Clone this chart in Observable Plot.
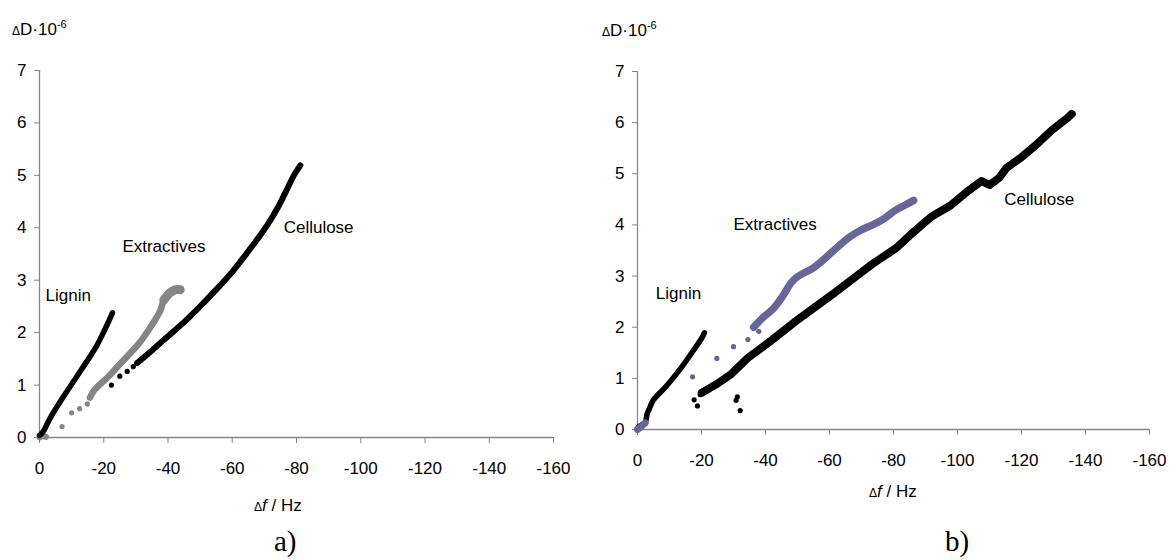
<!DOCTYPE html>
<html>
<head>
<meta charset="utf-8">
<script src="https://cdn.jsdelivr.net/npm/d3@7"></script>
<script src="https://cdn.jsdelivr.net/npm/@observablehq/plot@0.6"></script>
<style>
  body { margin: 0; background: #fff; }
  #fig { position: relative; width: 1173px; height: 560px; overflow: hidden; background: #fff; }
  #fig > svg { position: absolute; top: 0; }
  #overlay { left: 0; pointer-events: none; }
</style>
</head>
<body>
<div id="fig"></div>
<script>
// Axis ticks shared by both panels
const xTicks = [0, -20, -40, -60, -80, -100, -120, -140, -160];
const yTicks = [0, 1, 2, 3, 4, 5, 6, 7];

// Panel a) — [Δf (Hz), ΔD·10^-6]
const ligninA = [[0, 0.04], [-1, 0.1], [-3.4, 0.38], [-8.1, 0.84], [-13.1, 1.3], [-17.7, 1.74], [-20.2, 2.04], [-22.1, 2.29], [-22.7, 2.38]];
const extrA0 = [[0, 0], [-1, 0.03], [-2, 0.01]];
const extrAPts = [[-7.0, 0.21], [-10.0, 0.47], [-12.5, 0.55], [-14.9, 0.64]];
const extrA = [[-15.7, 0.76], [-17.0, 0.9], [-18.4, 0.99], [-21.4, 1.16], [-26.1, 1.47], [-30.9, 1.79], [-34.5, 2.10], [-37.6, 2.42], [-38.7, 2.62], [-40.6, 2.76], [-42.5, 2.82], [-43.8, 2.82]];
const celAPts = [[-22.4, 1.0], [-25.0, 1.17], [-27.3, 1.26], [-29.2, 1.35]];
const celA = [[-30.4, 1.42], [-35, 1.66], [-40, 1.93], [-45, 2.2], [-50, 2.5], [-55, 2.82], [-60, 3.16], [-64.1, 3.48], [-67.8, 3.78], [-70.9, 4.05], [-74.5, 4.42], [-77.1, 4.74], [-79.2, 5.0], [-81.2, 5.19]];
const labelsA = [
  {text: "Lignin", x: -1.9, y: 2.71},
  {text: "Extractives", x: -25.8, y: 3.64},
  {text: "Cellulose", x: -76.0, y: 4.0}
];

// Panel b)
const ligninB = [[0, 0.02], [-1, 0.08], [-2.4, 0.14], [-3.0, 0.3], [-3.8, 0.42], [-5.0, 0.58], [-8.9, 0.84], [-13.8, 1.22], [-17.4, 1.54], [-19.9, 1.77], [-20.9, 1.89]];
const extrB0 = [[0, 0], [-1, 0.05], [-2.4, 0.13]];
const extrBPts = [[-17.2, 1.03], [-24.8, 1.39], [-30.0, 1.62], [-34.5, 1.76], [-37.9, 1.92]];
const extrB = [[-36.3, 2.0], [-37.5, 2.08], [-39.4, 2.2], [-42.4, 2.36], [-45.5, 2.62], [-47.9, 2.86], [-49.8, 2.98], [-52, 3.06], [-54.5, 3.14], [-57, 3.26], [-61.3, 3.5], [-66.2, 3.76], [-69.9, 3.9], [-73.5, 4.0], [-77.2, 4.13], [-80.9, 4.3], [-84, 4.4], [-86.3, 4.48]];
const celBPts = [[-17.7, 0.58], [-18.75, 0.46], [-19.6, 0.68], [-31.2, 0.64], [-30.8, 0.57], [-32.1, 0.37]];
const celB = [[-20.1, 0.72], [-22.3, 0.8], [-24.8, 0.89], [-29.0, 1.07], [-34.5, 1.40], [-41.8, 1.74], [-49.1, 2.10], [-55.2, 2.38], [-61.3, 2.66], [-67.4, 2.95], [-73.5, 3.24], [-80.9, 3.55], [-85.7, 3.83], [-91.8, 4.16], [-97.8, 4.38], [-103.4, 4.67], [-107.5, 4.86], [-110, 4.78], [-113, 4.92], [-115.4, 5.12], [-119.9, 5.32], [-124.3, 5.55], [-129.6, 5.86], [-134.5, 6.10], [-135.7, 6.17]];
const labelsB = [
  {text: "Lignin", x: -5.7, y: 2.66},
  {text: "Extractives", x: -30.0, y: 4.0},
  {text: "Cellulose", x: -114.6, y: 4.5}
];

const AXIS = "#868686";
const BLACK = "#000000";
const GREY = "#858585";
const PURPLE = "#666699";
const FONT = "'Liberation Sans', Arial, sans-serif";
const FS = 17;

function trace(data, color, w, curve = "linear") {
  return Plot.line(data, {x: d => d[0], y: d => d[1], stroke: color, strokeWidth: w, strokeLinecap: "round", strokeLinejoin: "round", curve});
}
function pts(data, color) {
  return Plot.dot(data, {x: d => d[0], y: d => d[1], fill: color, r: 2.6, stroke: "none"});
}

function panel({width, margins, series, labels}) {
  return Plot.plot({
    width, height: 560,
    marginLeft: margins[0], marginRight: margins[1], marginTop: margins[2], marginBottom: margins[3],
    style: {fontFamily: FONT, fontSize: FS + "px", color: "#000", background: "transparent", overflow: "visible"},
    x: {domain: [0, -160]},
    y: {domain: [0, 7]},
    marks: [
      Plot.ruleX([0], {stroke: AXIS, strokeWidth: 1.3}),
      Plot.ruleY([0], {stroke: AXIS, strokeWidth: 1.3}),
      Plot.axisX(xTicks, {tickSize: 6, tickPadding: 18, tickFormat: d => String(d), stroke: AXIS, fill: "#000", fontSize: FS, label: null}),
      Plot.axisY(yTicks, {tickSize: 5, tickPadding: 8, tickFormat: d => String(d), stroke: AXIS, fill: "#000", fontSize: FS, label: null}),
      ...series,
      Plot.text(labels, {x: "x", y: "y", text: "text", textAnchor: "start", fontSize: FS, fill: "#000"})
    ]
  });
}

const fig = document.getElementById("fig");

const svgA = panel({
  width: 580, margins: [39, 27, 70, 123],
  series: [
    trace(extrA0, GREY, 6),
    pts(extrAPts, GREY),
    trace(extrA, GREY, 6.5, "catmull-rom"),
    trace(extrA.slice(-4), GREY, 9, "catmull-rom"),
    pts(celAPts, BLACK),
    trace(celA, BLACK, 6, "catmull-rom"),
    trace(ligninA, BLACK, 5.5, "catmull-rom")
  ],
  labels: labelsA
});
svgA.style.left = "0px";
fig.appendChild(svgA);

const svgB = panel({
  width: 593, margins: [57, 24, 71, 131],
  series: [
    pts(celBPts, BLACK),
    trace(celB, BLACK, 8),
    trace(ligninB, BLACK, 5.5, "catmull-rom"),
    pts(extrBPts, PURPLE),
    trace(extrB, PURPLE, 7.5, "catmull-rom"),
    trace(extrB0, PURPLE, 7)
  ],
  labels: labelsB
});
svgB.style.left = "580px";
fig.appendChild(svgB);

// Axis titles and panel tags
const ov = d3.select(fig).append("svg").attr("id", "overlay")
  .attr("width", 1173).attr("height", 560)
  .style("font-family", FONT).style("font-size", FS + "px");

function yTitle(x, y) {
  const t = ov.append("text").attr("x", x).attr("y", y);
  t.append("tspan").attr("font-size", 12).text("Δ");
  t.append("tspan").text("D·10");
  t.append("tspan").attr("font-size", 11).attr("dy", -7).text("-6");
}
function xTitle(x, y) {
  const t = ov.append("text").attr("x", x).attr("y", y);
  t.append("tspan").attr("font-size", 12).text("Δ");
  t.append("tspan").attr("font-style", "italic").text("f");
  t.append("tspan").text(" / Hz");
}
yTitle(12, 35);
yTitle(602, 36);
xTitle(254, 511);
xTitle(869, 497);
const SERIF = "'Liberation Serif', 'Times New Roman', serif";
ov.append("text").attr("x", 274).attr("y", 551).attr("font-family", SERIF).attr("font-size", 29).text("a)");
ov.append("text").attr("x", 945).attr("y", 551).attr("font-family", SERIF).attr("font-size", 29).text("b)");
</script>
</body>
</html>
